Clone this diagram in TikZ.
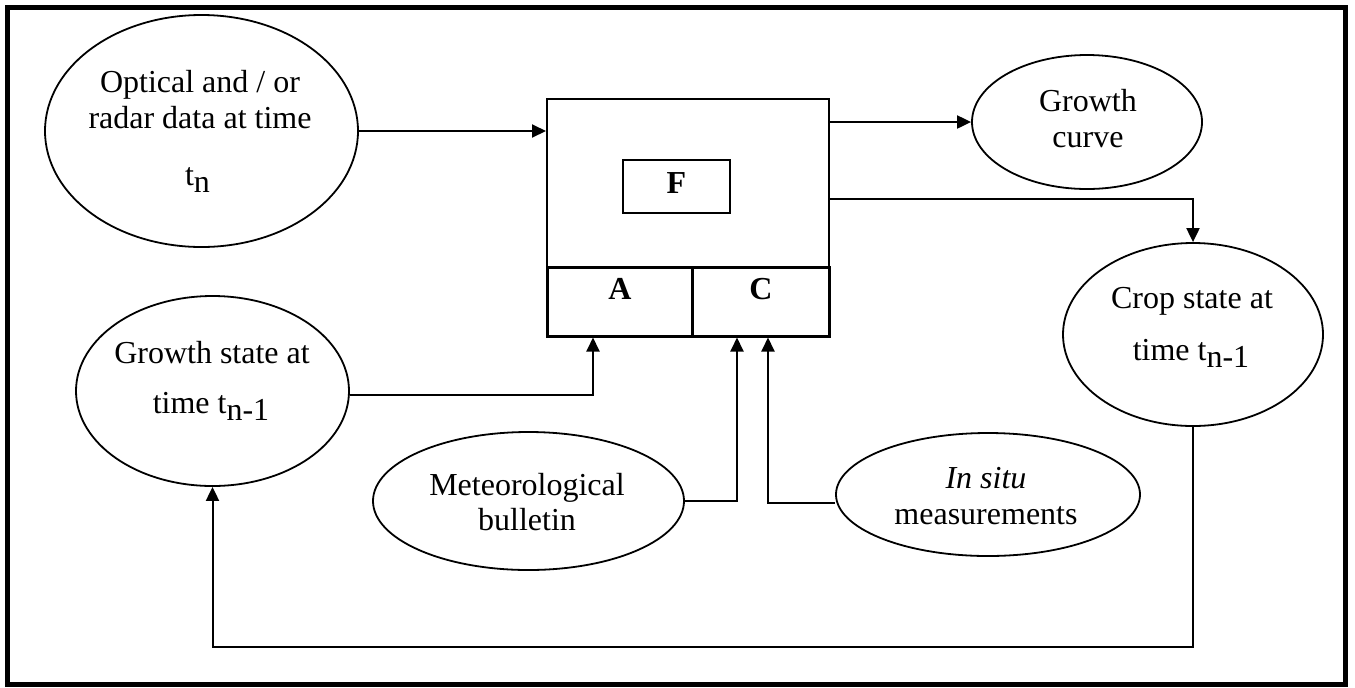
\documentclass[tikz,border=0pt]{standalone}
\usepackage{fontspec}
\setmainfont{Liberation Serif}
\usetikzlibrary{arrows.meta,shapes.geometric}
\begin{document}
\begin{tikzpicture}[x=0.5pt,y=-0.5pt,
  oval/.style={draw, ellipse, line width=0.9pt, inner sep=0pt},
  txt/.style={anchor=base, inner sep=0pt, font=\fontsize{16pt}{19pt}\selectfont},
  letter/.style={inner sep=0pt, font=\fontsize{16pt}{19pt}\selectfont\bfseries},
  panel/.style={draw, line width=1pt, inner sep=0pt},
  cell/.style={draw, line width=1.5pt, inner sep=0pt},
  conn/.style={line width=1pt},
  arr/.style={conn, -{Triangle[length=7pt,width=6.5pt]}},
]
\useasboundingbox (0,0) rectangle (1355,687);
% outer frame
\draw[line width=2.5pt] (7.5,7.5) rectangle (1345.5,684.5);

% model block: upper panel, inner F box, lower A / C cells
\node[panel, minimum width=141pt, minimum height=84pt] (model) at (688,183) {};
\node[panel, minimum width=53.5pt, minimum height=26.5pt, text depth=3pt,
      font=\fontsize{16pt}{19pt}\selectfont\bfseries] (F) at (676.5,186.5) {F};
\node[cell, minimum width=72.5pt, minimum height=34.5pt] (A) at (619.5,301.5) {};
\node[cell, minimum width=68.5pt, minimum height=34.5pt] (C) at (760.5,301.5) {};
\node[letter] (Alab) at (620,289) {A};
\node[letter] (Clab) at (761,289) {C};

% ellipses
\node[oval, minimum width=156.5pt, minimum height=116pt] (opt) at (201.5,131) {};
\node[oval, minimum width=136.5pt, minimum height=95pt] (gs) at (212.5,391) {};
\node[oval, minimum width=115pt, minimum height=67pt] (gc) at (1087,122) {};
\node[oval, minimum width=130pt, minimum height=91.5pt] (crop) at (1193,334.5) {};
\node[oval, minimum width=155.5pt, minimum height=69pt] (met) at (528.5,501) {};
\node[oval, minimum width=152pt, minimum height=61.5pt] (ins) at (988,494.5) {};

% ellipse texts
\node[txt] (opt1) at (200,92) {Optical and / or};
\node[txt] (opt2) at (200,128) {radar data at time};
\node[txt] (opt3) at (197.5,185) {t\raisebox{-3.5pt}{n}};
\node[txt] (gs1) at (212,363) {Growth state at};
\node[txt] (gs2) at (211,413) {time t\raisebox{-3.5pt}{n-1}};
\node[txt] (gc1) at (1088,111) {Growth};
\node[txt] (gc2) at (1088,147) {curve};
\node[txt] (crop1) at (1192,308) {Crop state at};
\node[txt] (crop2) at (1191,360) {time t\raisebox{-3.5pt}{n-1}};
\node[txt] (met1) at (527,495) {Meteorological};
\node[txt] (met2) at (527,530) {bulletin};
\node[txt] (ins1) at (986,488) {\textit{In situ}};
\node[txt] (ins2) at (986,524) {measurements};

% connectors
\coordinate (fb) at (0,647);
\draw[arr] (opt.east) -- (opt.east -| model.west);
\draw[arr] (gc.west -| model.east) -- (gc.west);
\draw[arr] ([yshift=-8pt]model.east) -| (crop.north);
\draw[arr] ([yshift=-2pt]gs.east) -| ([xshift=-13.25pt]A.south);
\draw[arr] (met.east) -| ([xshift=-11.75pt]C.south);
\draw[arr] ([yshift=-4pt]ins.west) -| ([xshift=3.75pt]C.south);
\draw[arr] (crop.south) -- (crop.south |- fb) -| (gs.south);
\end{tikzpicture}
\end{document}
